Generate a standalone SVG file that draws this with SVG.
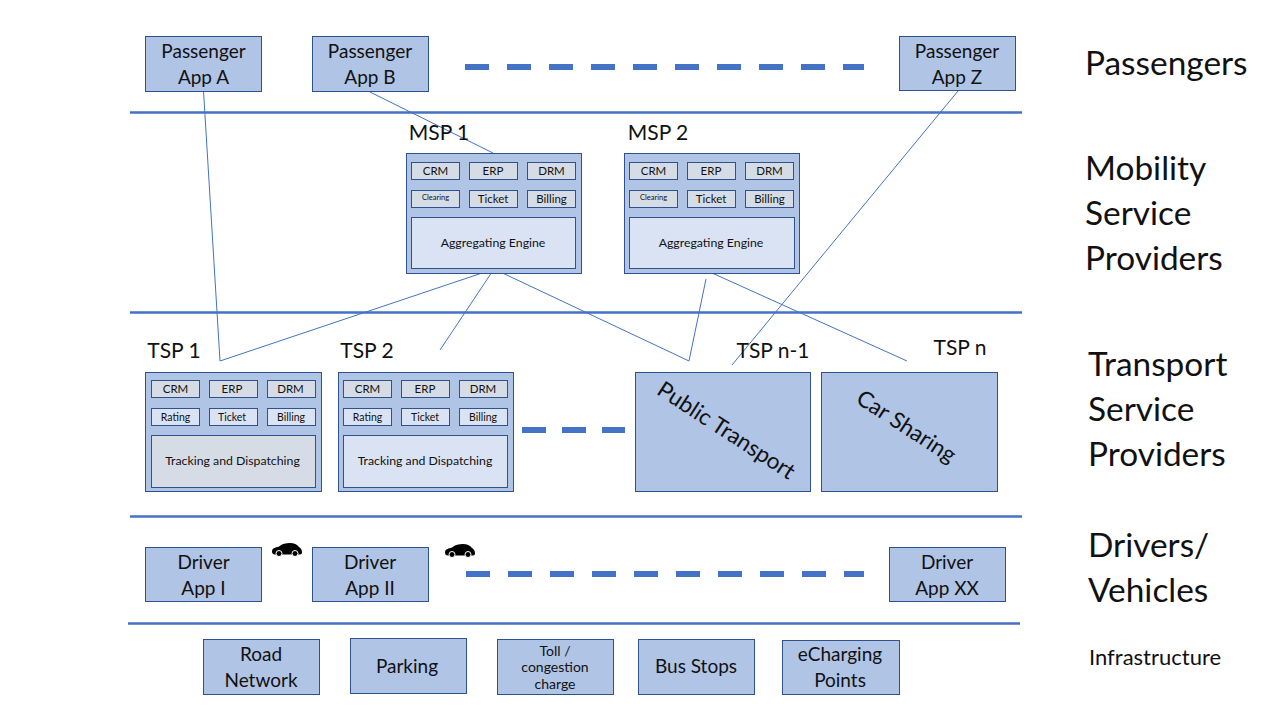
<svg xmlns="http://www.w3.org/2000/svg" width="1280" height="720" viewBox="0 0 1280 720">
<style>
text{font-family:Lato,"Open Sans","Liberation Sans",sans-serif;fill:#111;text-anchor:middle}
.b{fill:#b0c4e6;stroke:#2f528f;stroke-width:1}
.s{fill:#d6dce5;stroke:#2f528f;stroke-width:1}
.e{fill:#dae3f3;stroke:#2f528f;stroke-width:1}
.hl{stroke:#4472c4;stroke-width:2.500;fill:none}
.dash{stroke:#4472c4;stroke-width:6;stroke-dasharray:24 18;fill:none}
.c{stroke:#4472c4;stroke-width:1;fill:none}
.t18{font-size:19px}.t20{font-size:21px}.t11{font-size:11.5px}.t12{font-size:12.3px}.t10{font-size:10.5px}.t7{font-size:7.5px}.t13{font-size:14px}
.r{font-size:22.5px}
.h{font-size:33.400px;text-anchor:start}
.car{fill:#000}
</style>
<defs>
<g id="car"><path class="car" d="M0 8.500 C0 5.500 3 4.500 7 3.500 C10 0.500 14 0 18 0 C22 0 25 1.500 27 4 C29 5 30 7 30 9.500 C30 11 29 11.500 27 11.500 L3 11.500 C1 11.500 0 10.500 0 8.500Z"/><circle cx="7" cy="10.500" r="3" fill="#000" stroke="#fff" stroke-width="1"/><circle cx="23" cy="10.500" r="3" fill="#000" stroke="#fff" stroke-width="1"/></g>
</defs>
<rect width="1280" height="720" fill="#fff"/>
<g id="connectors">
<path class="hl" d="M130 112.500H1022M130 312.500H1022M130 516.500H1022M128 623.500H1020"/>
<path class="dash" d="M465 67H864M466 574H864"/>
<path class="dash" d="M522 430H625" style="stroke-dasharray:24 16"/>
<path class="c" d="M203.500 91L220 361L494 269L689 361L706 279"/>
<path class="c" d="M494 269L440 350"/>
<path class="c" d="M370 92L493 153"/>
<path class="c" d="M958 91L732 365"/>
<path class="c" d="M712 273L907 361"/>
</g>
<g id="passenger-a"><rect class="b" x="145.500" y="36.500" width="116" height="55"/><text class="t18" x="203.500" y="58">Passenger</text><text class="t18" x="203.500" y="84">App A</text></g>
<g id="passenger-b"><rect class="b" x="312.500" y="36.500" width="116" height="55"/><text class="t18" x="370" y="58">Passenger</text><text class="t18" x="370" y="84">App B</text></g>
<g id="passenger-z"><rect class="b" x="899.500" y="36.500" width="116" height="54"/><text class="t18" x="957" y="58">Passenger</text><text class="t18" x="957" y="84">App Z</text></g>
<g id="msp-1"><text class="t20" x="439" y="140">MSP 1</text><rect class="b" x="406.500" y="153.500" width="175" height="120"/>
<rect class="s" x="411.500" y="162.500" width="48" height="17"/><text class="t11" x="435.500" y="175">CRM</text>
<rect class="s" x="469.500" y="162.500" width="48" height="17"/><text class="t11" x="493" y="175">ERP</text>
<rect class="s" x="527.500" y="162.500" width="48" height="17"/><text class="t11" x="551.500" y="175">DRM</text>
<rect class="s" x="411.500" y="190.500" width="48" height="17"/><text class="t7" x="435.500" y="200">Clearing</text>
<rect class="s" x="469.500" y="190.500" width="48" height="17"/><text class="t11" x="493" y="203">Ticket</text>
<rect class="s" x="527.500" y="190.500" width="48" height="17"/><text class="t11" x="551.500" y="203">Billing</text>
<rect class="e" x="411.500" y="217.500" width="164" height="51"/><text class="t12" x="493" y="247">Aggregating Engine</text></g>
<g id="msp-2"><text class="t20" x="658" y="140">MSP 2</text><rect class="b" x="624.500" y="153.500" width="175" height="120"/>
<rect class="s" x="629.500" y="162.500" width="48" height="17"/><text class="t11" x="653.500" y="175">CRM</text>
<rect class="s" x="687.500" y="162.500" width="48" height="17"/><text class="t11" x="711" y="175">ERP</text>
<rect class="s" x="745.500" y="162.500" width="48" height="17"/><text class="t11" x="769.500" y="175">DRM</text>
<rect class="s" x="629.500" y="190.500" width="48" height="17"/><text class="t7" x="653.500" y="200">Clearing</text>
<rect class="s" x="687.500" y="190.500" width="48" height="17"/><text class="t11" x="711" y="203">Ticket</text>
<rect class="s" x="745.500" y="190.500" width="48" height="17"/><text class="t11" x="769.500" y="203">Billing</text>
<rect class="e" x="629.500" y="217.500" width="165" height="51"/><text class="t12" x="711" y="247">Aggregating Engine</text></g>
<g id="tsp-1"><text class="t20" x="174" y="358">TSP 1</text><rect class="b" x="145.500" y="372.500" width="176" height="119"/>
<rect class="s" x="151.500" y="380.500" width="48" height="17"/><text class="t11" x="175.500" y="393">CRM</text>
<rect class="s" x="209.500" y="380.500" width="48" height="17"/><text class="t11" x="232" y="393">ERP</text>
<rect class="s" x="267.500" y="380.500" width="48" height="17"/><text class="t11" x="290.500" y="393">DRM</text>
<rect class="e" x="151.500" y="408.500" width="48" height="17"/><text class="t10" x="175.500" y="420.500">Rating</text>
<rect class="e" x="209.500" y="408.500" width="48" height="17"/><text class="t10" x="232" y="420.500">Ticket</text>
<rect class="e" x="267.500" y="408.500" width="48" height="17"/><text class="t10" x="291" y="420.500">Billing</text>
<rect class="s" x="151.500" y="435.500" width="164" height="52"/><text class="t12" x="232.500" y="465">Tracking and Dispatching</text></g>
<g id="tsp-2"><text class="t20" x="367" y="358">TSP 2</text><rect class="b" x="338.500" y="372.500" width="175" height="119"/>
<rect class="s" x="343.500" y="380.500" width="48" height="17"/><text class="t11" x="367.500" y="393">CRM</text>
<rect class="s" x="401.500" y="380.500" width="48" height="17"/><text class="t11" x="425" y="393">ERP</text>
<rect class="s" x="459.500" y="380.500" width="48" height="17"/><text class="t11" x="483" y="393">DRM</text>
<rect class="e" x="343.500" y="408.500" width="48" height="17"/><text class="t10" x="367.500" y="420.500">Rating</text>
<rect class="e" x="401.500" y="408.500" width="48" height="17"/><text class="t10" x="425" y="420.500">Ticket</text>
<rect class="e" x="459.500" y="408.500" width="48" height="17"/><text class="t10" x="483" y="420.500">Billing</text>
<rect class="e" x="343.500" y="435.500" width="164" height="52"/><text class="t12" x="425" y="465">Tracking and Dispatching</text></g>
<g id="tsp-n-1"><text class="t20" x="773" y="358">TSP n-1</text><rect class="b" x="635.500" y="372.500" width="175" height="119"/><text class="r" transform="translate(726 431) rotate(33)" y="7">Public Transport</text></g>
<g id="tsp-n"><text class="t20" x="960" y="355">TSP n</text><rect class="b" x="821.500" y="372.500" width="176" height="119"/><text class="r" transform="translate(906 427) rotate(33)" y="7">Car Sharing</text></g>
<g id="driver-i"><rect class="b" x="145.500" y="547.500" width="116" height="54"/><text class="t18" x="203.500" y="569">Driver</text><text class="t18" x="203.500" y="595">App I</text></g>
<g id="driver-ii"><rect class="b" x="312.500" y="547.500" width="116" height="54"/><text class="t18" x="370" y="569">Driver</text><text class="t18" x="370" y="595">App II</text></g>
<g id="driver-xx"><rect class="b" x="889.500" y="547.500" width="116" height="54"/><text class="t18" x="947" y="569">Driver</text><text class="t18" x="947" y="595">App XX</text></g>
<g id="car-1"><use href="#car" x="272" y="543"/></g>
<g id="car-2"><use href="#car" x="445" y="544"/></g>
<g id="road"><rect class="b" x="203.500" y="639.500" width="116" height="55"/><text class="t18" x="261" y="661">Road</text><text class="t18" x="261" y="687">Network</text></g>
<g id="parking"><rect class="b" x="350.500" y="638.500" width="116" height="55"/><text class="t18" x="407" y="673">Parking</text></g>
<g id="toll"><rect class="b" x="497.500" y="639.500" width="116" height="55"/><text class="t13" x="555" y="656">Toll /</text><text class="t13" x="555" y="672">congestion</text><text class="t13" x="555" y="689">charge</text></g>
<g id="bus"><rect class="b" x="638.500" y="639.500" width="116" height="55"/><text class="t18" x="696" y="673">Bus Stops</text></g>
<g id="echarging"><rect class="b" x="782.500" y="640.500" width="117" height="54"/><text class="t18" x="840" y="661">eCharging</text><text class="t18" x="840" y="687">Points</text></g>
<g id="layer-labels">
<text class="h" x="1085" y="75">Passengers</text>
<text class="h" x="1085" y="180">Mobility</text><text class="h" x="1085" y="225">Service</text><text class="h" x="1085" y="270">Providers</text>
<text class="h" x="1088" y="376">Transport</text><text class="h" x="1088" y="421">Service</text><text class="h" x="1088" y="466">Providers</text>
<text class="h" x="1088" y="557">Drivers/</text><text class="h" x="1088" y="602">Vehicles</text>
<text style="text-anchor:start;font-size:22px" x="1089" y="665">Infrastructure</text>
</g>
</svg>
